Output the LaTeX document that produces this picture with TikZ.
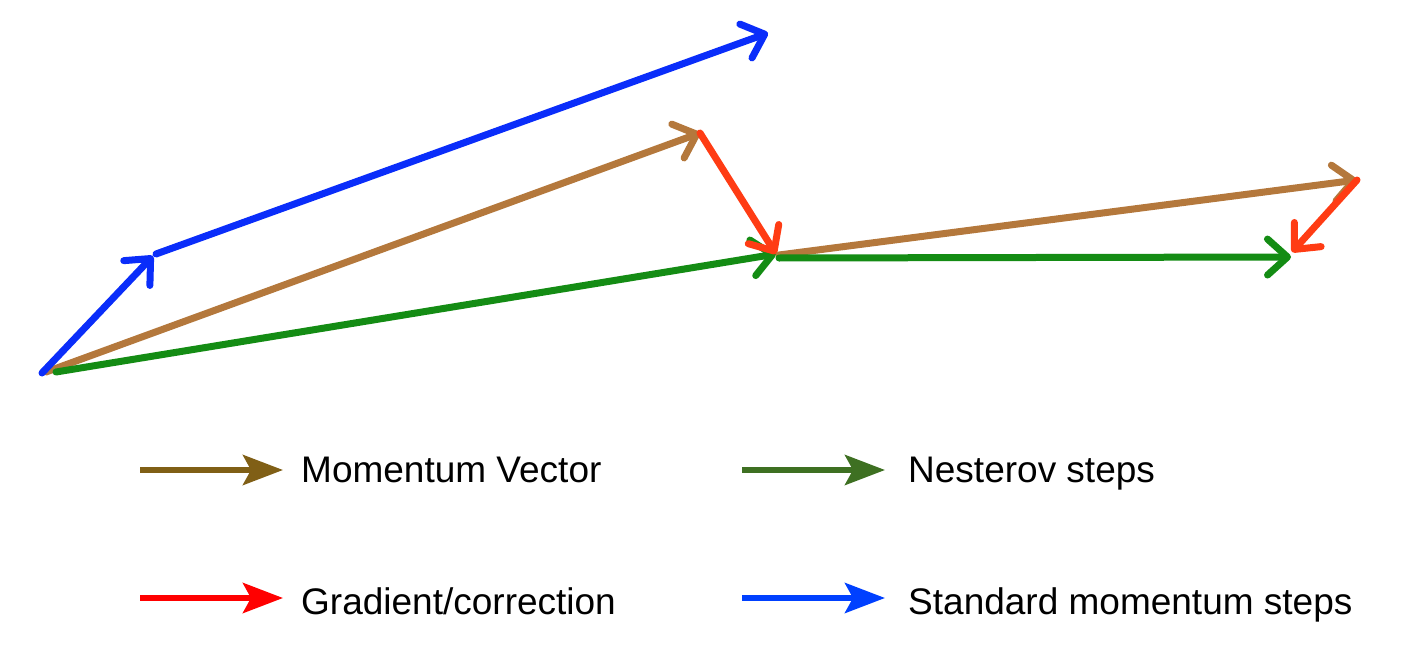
\documentclass[tikz,border=0pt]{standalone}
\usepackage{fontspec}
\setmainfont{Liberation Sans}
\usetikzlibrary{arrows.meta}
\definecolor{mblue}{RGB}{10,45,250}
\definecolor{mbrown}{RGB}{180,120,60}
\definecolor{mgreen}{RGB}{20,140,20}
\definecolor{mred}{RGB}{255,60,20}
\definecolor{lbrown}{RGB}{128,95,22}
\definecolor{lgreen}{RGB}{62,112,34}
\definecolor{lred}{RGB}{255,0,0}
\definecolor{lblue}{RGB}{0,64,255}
\tikzset{
  vec/.style={line width=7pt, line cap=round, -{Straight Barb[length=20pt,width=36pt,line width=7pt,round]}},
  leg/.style={line width=6pt, -{Stealth[length=40pt,width=30pt,inset=8pt]}},
  lab/.style={anchor=base west, font=\fontsize{37}{42}\selectfont, inner sep=0pt}
}
\begin{document}
\begin{tikzpicture}[x=1pt,y=-1pt]
\useasboundingbox (0,0) rectangle (1402,666);
% points
\coordinate (A) at (42,373);
\coordinate (Ab) at (46,372);
\coordinate (Ag) at (56,372);
\coordinate (B1) at (153,256);
\coordinate (B1s) at (156,254);
\coordinate (B2) at (768,33);
\coordinate (M1) at (700,133);
\coordinate (P1) at (776,254);
\coordinate (P1s) at (779,255);
\coordinate (P1g) at (779,258);
\coordinate (M2) at (1357,180);
\coordinate (P2) at (1292,252);
\coordinate (G2) at (1291,257);
% diagram
\draw[vec, mbrown] (Ab) -- (M1);
\draw[vec, mgreen] (Ag) -- (P1);
\draw[vec, mblue] (A) -- (B1);
\draw[vec, mblue] (B1s) -- (B2);
\draw[vec, mred] (M1) -- (P1);
\draw[vec, mbrown] (P1s) -- (M2);
\draw[vec, mgreen] (P1g) -- (G2);
\draw[vec, mred] (M2) -- (P2);
% legend
\coordinate (L1a) at (140,470); \coordinate (L1b) at (283,470);
\coordinate (L2a) at (742,470); \coordinate (L2b) at (885,470);
\coordinate (L3a) at (140,598); \coordinate (L3b) at (283,598);
\coordinate (L4a) at (742,598); \coordinate (L4b) at (885,598);
\draw[leg, lbrown] (L1a) -- (L1b);
\draw[leg, lgreen] (L2a) -- (L2b);
\draw[leg, lred] (L3a) -- (L3b);
\draw[leg, lblue] (L4a) -- (L4b);
\node[lab] (t1) at (301,482) {Momentum Vector};
\node[lab] (t2) at (908,482) {Nesterov steps};
\node[lab] (t3) at (301,614) {Gradient/correction};
\node[lab] (t4) at (908,614) {Standard momentum steps};
\end{tikzpicture}
\end{document}
